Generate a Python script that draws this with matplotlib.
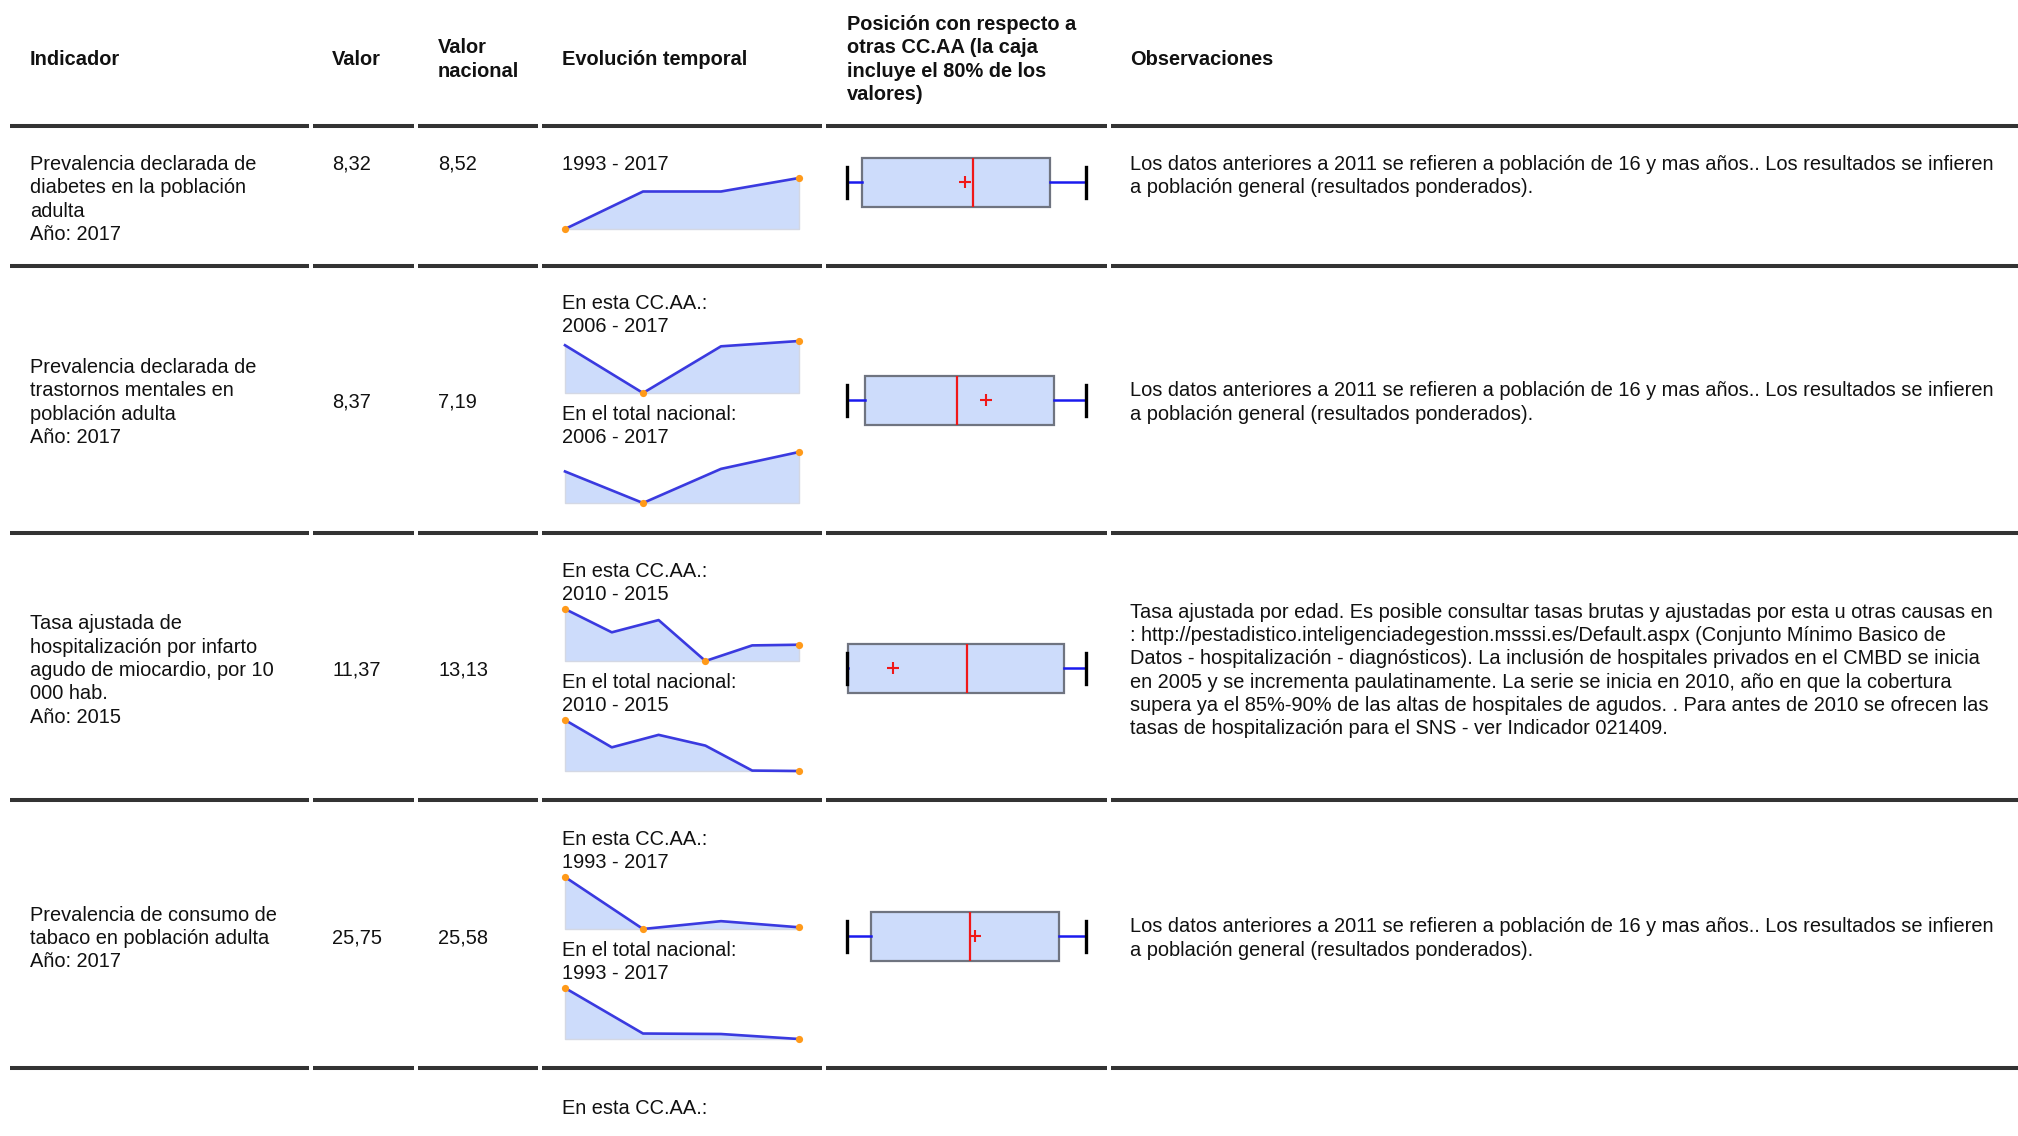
import numpy as np
import matplotlib.pyplot as plt

cabeceras = ["Indicador", "Valor", "Valor\nnacional", "Evolución temporal",
             "Posición con respecto a\notras CC.AA (la caja\nincluye el 80% de los\nvalores)",
             "Observaciones"]

indicadores = [
    ["Prevalencia declarada de", "diabetes en la población", "adulta", "Año: 2017"],
    ["Prevalencia declarada de", "trastornos mentales en", "población adulta", "Año: 2017"],
    ["Tasa ajustada de", "hospitalización por infarto", "agudo de miocardio, por 10", "000 hab.", "Año: 2015"],
    ["Prevalencia de consumo de", "tabaco en población adulta", "Año: 2017"],
]
valores = [8.32, 8.37, 11.37, 25.75]
valores_nac = [8.52, 7.19, 13.13, 25.58]
periodos = ["1993 - 2017", "2006 - 2017", "2010 - 2015", "1993 - 2017"]

serie_ccaa = [
    [5.6, 7.6, 7.6, 8.32],
    [8.25, 6.90, 8.22, 8.37],
    [13.5, 12.11, 12.84, 10.4, 11.33, 11.37],
    [36.0, 25.4, 27.0, 25.75],
]
serie_nac = [
    None,
    [6.66, 5.80, 6.73, 7.19],
    [15.5, 14.23, 14.81, 14.31, 13.15, 13.13],
    [36.0, 26.7, 26.6, 25.58],
]

# distribution among the other CC.AA (whiskers = min/max, box = p10-p90)
caja_min = [5.6, 5.0, 9.0, 20.0]
caja_p10 = [5.95, 5.44, 9.06, 21.09]
caja_med = [8.50, 7.68, 15.1, 25.52]
caja_p90 = [10.27, 10.02, 20.1, 29.49]
caja_max = [11.1, 10.8, 21.2, 30.7]

obs_general = ["Los datos anteriores a 2011 se refieren a población de 16 y mas años.. Los resultados se infieren",
               "a población general (resultados ponderados)."]
obs_infarto = [
    "Tasa ajustada por edad. Es posible consultar tasas brutas y ajustadas por esta u otras causas en",
    ": http://pestadistico.inteligenciadegestion.msssi.es/Default.aspx (Conjunto Mínimo Basico de",
    "Datos - hospitalización - diagnósticos). La inclusión de hospitales privados en el CMBD se inicia",
    "en 2005 y se incrementa paulatinamente. La serie se inicia en 2010, año en que la cobertura",
    "supera ya el 85%-90% de las altas de hospitales de agudos. . Para antes de 2010 se ofrecen las",
    "tasas de hospitalización para el SNS - ver Indicador 021409.",
]
observaciones = [obs_general, obs_general, obs_infarto, obs_general]

# ---- layout (pixels) ----
W, H = 2018, 1136
plt.rcParams['font.family'] = ['Liberation Sans', 'DejaVu Sans']
FS = 14.4
LH = 23.4
DY = 1.5  # small downward nudge of all text
col_x = [30, 332, 438, 562, 847, 1130]
segs = [(10, 309), (313, 414), (418, 538), (542, 822), (826, 1107), (1111, 2018)]
lineas_y = [126, 266, 533, 800, 1068]
centros = [None, 401, 669, 937]
SPK_X0, SPK_X1 = 565, 799
BOX_X0, BOX_X1 = 847, 1086

fig = plt.figure(figsize=(W / 100, H / 100), dpi=100)
ax = fig.add_axes([0, 0, 1, 1])
ax.set_xlim(0, W)
ax.set_ylim(H, 0)
ax.axis('off')


def lineas(x, y0, textos, **kw):
    for i, t in enumerate(textos):
        ax.text(x, y0 + i * LH + DY, t, fontsize=FS, va='center', ha='left', color='#111111', **kw)


def bloque_centrado(x, yc, textos, **kw):
    y0 = yc - (len(textos) - 1) * LH / 2
    lineas(x, y0, textos, **kw)


def fmt(v):
    return f"{v:.2f}".replace('.', ',')


def sparkline(vals, top, bottom):
    a = fig.add_axes([SPK_X0 / W, 1 - bottom / H, (SPK_X1 - SPK_X0) / W, (bottom - top) / H])
    x = np.arange(len(vals))
    v = np.array(vals)
    a.set_xlim(0, len(vals) - 1)
    a.set_ylim(v.min(), v.max())
    a.fill_between(x, v, v.min(), facecolor='#cddcfb', edgecolor='#d4d8e4', lw=1.0, clip_on=False)
    a.plot(x, v, color='#3a3ae0', lw=1.9, clip_on=False, solid_joinstyle='round')
    idx = sorted({int(v.argmin()), int(v.argmax()), len(v) - 1})
    a.plot(x[idx], v[idx], 'o', color='#ff9a1a', ms=5.2, mec='none', clip_on=False, zorder=5)
    a.axis('off')


def caja(i, yc):
    h = 50
    a = fig.add_axes([BOX_X0 / W, 1 - (yc + h / 2) / H, (BOX_X1 - BOX_X0) / W, h / H])
    st = [dict(whislo=caja_min[i], q1=caja_p10[i], med=caja_med[i], q3=caja_p90[i],
               whishi=caja_max[i], mean=valores[i], fliers=[])]
    art = a.bxp(st, positions=[1], widths=0.98, orientation='horizontal', patch_artist=True,
                showmeans=True, showfliers=False, capwidths=0.62,
                boxprops=dict(facecolor='#cddcfb', edgecolor='#6f7480', lw=1.6),
                medianprops=dict(color='#f01818', lw=1.6),
                whiskerprops=dict(color='#1a1aee', lw=1.8),
                capprops=dict(color='black', lw=2.4),
                meanprops=dict(marker='+', markeredgecolor='#f01818', markersize=8, mew=1.5))
    for k in art.values():
        for obj in k:
            obj.set_clip_on(False)
    a.set_xlim(caja_min[i], caja_max[i])
    a.set_ylim(0.5, 1.5)
    a.axis('off')


# headers
for j, c in enumerate(cabeceras):
    partes = c.split('\n')
    bloque_centrado(col_x[j], 58, partes, fontweight='bold')

# separator lines
for y in lineas_y:
    for x0, x1 in segs:
        ax.plot([x0, x1], [y, y], color='#333333', lw=2.9, solid_capstyle='butt')

# rows
for i in range(4):
    if i == 0:
        y_top = 163
        lineas(col_x[0], y_top, indicadores[i])
        lineas(col_x[1], y_top, [fmt(valores[i])])
        lineas(col_x[2], y_top, [fmt(valores_nac[i])])
        lineas(col_x[3], y_top, [periodos[i]])
        sparkline(serie_ccaa[i], 178, 229)
        lineas(col_x[5], y_top, observaciones[i])
        caja(i, 182)
    else:
        c = centros[i]
        bloque_centrado(col_x[0], c, indicadores[i])
        bloque_centrado(col_x[1], c, [fmt(valores[i])])
        bloque_centrado(col_x[2], c, [fmt(valores_nac[i])])
        lineas(col_x[3], c - 99, ["En esta CC.AA.:", periodos[i]])
        sparkline(serie_ccaa[i], c - 60, c - 8)
        lineas(col_x[3], c + 12, ["En el total nacional:", periodos[i]])
        sparkline(serie_nac[i], c + 51, c + 102)
        bloque_centrado(col_x[5], c, observaciones[i])
        caja(i, c - 1)

# next row (cut off at the bottom)
lineas(col_x[3], 1107, ["En esta CC.AA.:"])

fig.savefig('out.png', dpi=100)
